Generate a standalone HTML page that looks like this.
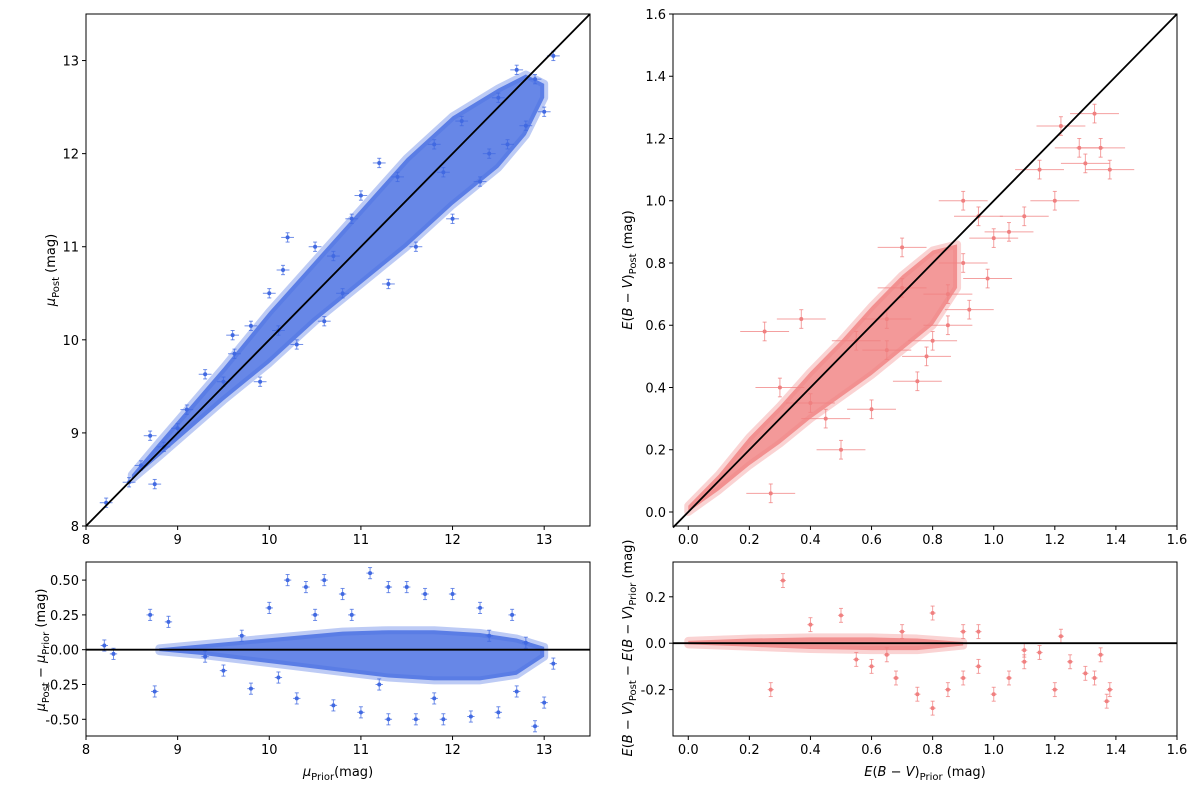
<!DOCTYPE html>
<html><head><meta charset="utf-8"><style>
body{margin:0;background:#fff;font-family:"Liberation Sans",sans-serif}
svg text{font-family:"DejaVu Sans","Liberation Sans",sans-serif;font-size:13px;fill:#000}
</style></head><body>
<svg id="fig" width="1200" height="789" xmlns="http://www.w3.org/2000/svg"></svg>
<script>
// ---- data ----
const bandLX=[8.5,8.8,9.5,10,10.5,11,11.5,12,12.5,12.8,13.0];
const bandLLo=[8.5,8.75,9.35,9.75,10.2,10.6,11.0,11.45,11.85,12.2,12.6];
const bandLHi=[8.55,8.9,9.7,10.3,10.85,11.4,11.95,12.4,12.7,12.85,12.75];
const ptsLX=[8.22,8.47,8.7,8.75,8.6,8.85,9.0,9.3,9.1,9.5,9.9,9.62,9.6,10.3,10.6,10.0,10.15,10.2,10.5,10.9,10.8,11.3,11.0,11.4,11.6,11.2,11.8,12.0,12.1,12.3,12.5,12.6,12.7,12.9,13.1,13.0,12.8,12.4,11.9,10.7,9.8,10.1];
const ptsLY=[8.25,8.47,8.97,8.45,8.65,8.85,9.05,9.63,9.25,9.55,9.55,9.85,10.05,9.95,10.2,10.5,10.75,11.1,11.0,11.3,10.5,10.6,11.55,11.75,11.0,11.9,12.1,11.3,12.35,11.7,12.6,12.1,12.9,12.8,13.05,12.45,12.3,12.0,11.8,10.9,10.15,10.1];
const rbandLX=[8.8,9.3,9.8,10.3,10.8,11.3,11.8,12.3,12.7,13.0];
const rbandLLo=[-0.01,-0.04,-0.08,-0.12,-0.16,-0.2,-0.22,-0.22,-0.18,-0.05];
const rbandLHi=[0.01,0.04,0.07,0.1,0.13,0.14,0.14,0.12,0.08,0.02];
const resLX=[8.2,8.3,8.7,8.75,8.9,9.3,9.5,9.8,10.0,10.2,10.4,10.6,10.8,11.1,11.3,11.5,11.7,12.0,12.3,10.3,10.7,11.0,11.3,11.6,11.9,12.2,12.5,12.9,13.0,13.1,12.7,12.8,12.65,9.7,10.1,10.9,11.8,12.4,11.2,10.5];
const resLY=[0.03,-0.03,0.25,-0.3,0.2,-0.05,-0.15,-0.28,0.3,0.5,0.45,0.5,0.4,0.55,0.45,0.45,0.4,0.4,0.3,-0.35,-0.4,-0.45,-0.5,-0.5,-0.5,-0.48,-0.45,-0.55,-0.38,-0.1,-0.3,0.05,0.25,0.1,-0.2,0.25,-0.35,0.1,-0.25,0.25];
const bandRX=[0,0.1,0.2,0.3,0.4,0.5,0.6,0.7,0.8,0.88];
const bandRLo=[0,0.07,0.15,0.22,0.3,0.37,0.44,0.52,0.6,0.72];
const bandRHi=[0.02,0.12,0.24,0.34,0.45,0.55,0.66,0.76,0.84,0.86];
const ptsRX=[0.27,0.25,0.37,0.5,0.6,0.55,0.65,0.7,0.75,0.8,0.85,0.9,0.92,0.95,1.0,1.05,1.1,0.98,0.9,0.85,0.7,0.65,1.2,1.22,1.33,1.35,1.38,1.28,1.3,1.15,0.4,0.3,0.45,0.78];
const ptsRY=[0.06,0.58,0.62,0.2,0.33,0.55,0.52,0.72,0.42,0.55,0.7,0.8,0.65,0.95,0.88,0.9,0.95,0.75,1.0,0.6,0.85,0.62,1.0,1.24,1.28,1.17,1.1,1.17,1.12,1.1,0.35,0.4,0.3,0.5];
const rbandRX=[0,0.2,0.4,0.6,0.75,0.9];
const rbandRLo=[-0.005,-0.015,-0.025,-0.03,-0.03,-0.01];
const rbandRHi=[0.01,0.02,0.025,0.025,0.02,0.005];
const resRX=[0.31,0.27,0.5,0.6,0.68,0.75,0.8,0.85,0.9,0.95,1.0,1.05,1.1,1.15,1.2,1.22,1.25,1.3,1.33,1.35,1.37,1.38,0.7,0.8,0.9,0.4,0.55,0.95,0.65,1.1];
const resRY=[0.27,-0.2,0.12,-0.1,-0.15,-0.22,-0.28,-0.2,-0.15,-0.1,-0.22,-0.15,-0.08,-0.04,-0.2,0.03,-0.08,-0.13,-0.15,-0.05,-0.25,-0.2,0.05,0.13,0.05,0.08,-0.07,0.05,-0.05,-0.03];
const ticksLX=[8,9,10,11,12,13];
const ticksLY=[8,9,10,11,12,13];
const ticksLR=[-0.5,-0.25,0,0.25,0.5];
const ticksRX=[0,0.2,0.4,0.6,0.8,1.0,1.2,1.4,1.6];
const ticksRR=[-0.2,0,0.2];

const NS="http://www.w3.org/2000/svg";
const svg=document.getElementById('fig');
function mk(t,a,p){const e=document.createElementNS(NS,t);for(const k in a)e.setAttribute(k,a[k]);(p||svg).appendChild(e);return e;}
function scale(d0,d1,r0,r1){return v=>r0+(v-d0)/(d1-d0)*(r1-r0);}
function panel(name,x0,x1,y0,y1,dx0,dx1,dy0,dy1,xt,yt,xfmt,yfmt){
  const g=mk('g',{});
  
  
  const sx=scale(dx0,dx1,x0,x1), sy=scale(dy0,dy1,y1,y0);
  const ax=mk('g',{},g);
  xt.forEach(v=>{const X=sx(v);mk('line',{x1:X,x2:X,y1:y1,y2:y1+4,stroke:'#000'},ax);const t=mk('text',{x:X,y:y1+18,'text-anchor':'middle'},ax);t.textContent=xfmt(v);});
  const ay=mk('g',{},g);
  yt.forEach(v=>{const Y=sy(v);mk('line',{x1:x0-4,x2:x0,y1:Y,y2:Y,stroke:'#000'},ay);const t=mk('text',{x:x0-7,y:Y+5,'text-anchor':'end'},ay);t.textContent=yfmt(v);});
  return {g,sx,sy,x0,x1,y0,y1};
}
function band(P,xs,lo,hi,col,name){
  let d='M'+xs.map((x,i)=>P.sx(x)+','+P.sy(hi[i])).join('L')+'L'+xs.slice().reverse().map((x,i)=>P.sx(x)+','+P.sy(lo[xs.length-1-i])).join('L')+'Z';
  const e=mk('path',{d:d,fill:col,'fill-opacity':0.8,stroke:col,'stroke-width':8,'stroke-opacity':0.35,'stroke-linejoin':'round'},P.g);
  
  
}
function pts(P,xs,ys,xe,ye,col,name){
  xs.forEach((x,i)=>{const X=P.sx(x),Y=P.sy(ys[i]);
    const gp=mk('g',{stroke:col,'stroke-opacity':0.75,fill:col},P.g);
    
    
    const hx=Math.abs(P.sx(x+xe)-X), hy=Math.abs(P.sy(ys[i]+ye)-Y);
    mk('line',{x1:X-hx,x2:X+hx,y1:Y,y2:Y},gp);mk('line',{x1:X,x2:X,y1:Y-hy,y2:Y+hy},gp);
    mk('line',{x1:X-2,x2:X+2,y1:Y-hy,y2:Y-hy},gp);mk('line',{x1:X-2,x2:X+2,y1:Y+hy,y2:Y+hy},gp);
    mk('circle',{cx:X,cy:Y,r:2,stroke:'none'},gp);});
}
function ref(P,xa,ya,xb,yb,name){const e=mk('line',{x1:P.sx(xa),y1:P.sy(ya),x2:P.sx(xb),y2:P.sy(yb),stroke:'#000','stroke-width':1.8},P.g);}
function frame(P){mk('rect',{x:P.x0,y:P.y0,width:P.x1-P.x0,height:P.y1-P.y0,fill:'none',stroke:'#000'},P.g);}
const BL='#4169e1', RD='#f08080';
const f0=v=>String(v), f1=v=>v.toFixed(1), f2=v=>v.toFixed(2);
let P=panel('mu-scatter-panel',86,590,14,526,8,13.5,8,13.5,ticksLX,ticksLY,f0,f0);
band(P,bandLX,bandLLo,bandLHi,BL,'mu-dense-cloud');pts(P,ptsLX,ptsLY,0.07,0.05,BL,'mu-point');ref(P,8,8,13.5,13.5,'one-to-one-line');frame(P);
P=panel('mu-residual-panel',86,590,562,736,8,13.5,-0.62,0.63,ticksLX,ticksLR,f0,f2);
band(P,rbandLX,rbandLLo,rbandLHi,BL,'mu-residual-cloud');pts(P,resLX,resLY,0.04,0.04,BL,'mu-residual-point');ref(P,8,0,13.5,0,'zero-line');frame(P);
P=panel('ebv-scatter-panel',673,1177,14,526,-0.05,1.6,-0.045,1.6,ticksRX,ticksRX,f1,f1);
band(P,bandRX,bandRLo,bandRHi,RD,'ebv-dense-cloud');pts(P,ptsRX,ptsRY,0.08,0.03,RD,'ebv-point');ref(P,-0.05,-0.05,1.6,1.6,'one-to-one-line');frame(P);
P=panel('ebv-residual-panel',673,1177,562,736,-0.05,1.6,-0.4,0.35,ticksRX,ticksRR,f1,f1);
band(P,rbandRX,rbandRLo,rbandRHi,RD,'ebv-residual-cloud');pts(P,resRX,resRY,0.01,0.03,RD,'ebv-residual-point');ref(P,-0.05,0,1.6,0,'zero-line');frame(P);
</script>
<svg style="position:absolute;left:0;top:0" width="1200" height="789" xmlns="http://www.w3.org/2000/svg">
<g font-family="DejaVu Sans, Liberation Sans, sans-serif" font-size="15">
<text transform="translate(55,270) rotate(-90)" text-anchor="middle"><tspan font-style="italic">μ</tspan><tspan font-size="10" dy="4">Post</tspan><tspan dy="-4"> (mag)</tspan></text>
<text transform="translate(45,650) rotate(-90)" text-anchor="middle"><tspan font-style="italic">μ</tspan><tspan font-size="10" dy="4">Post</tspan><tspan dy="-4"> − </tspan><tspan font-style="italic">μ</tspan><tspan font-size="10" dy="4">Prior</tspan><tspan dy="-4"> (mag)</tspan></text>
<text x="338" y="776" text-anchor="middle"><tspan font-style="italic">μ</tspan><tspan font-size="10" dy="4">Prior</tspan><tspan dy="-4">(mag)</tspan></text>
<text transform="translate(632,270) rotate(-90)" text-anchor="middle"><tspan font-style="italic">E</tspan>(<tspan font-style="italic">B</tspan> − <tspan font-style="italic">V</tspan>)<tspan font-size="10" dy="4">Post</tspan><tspan dy="-4"> (mag)</tspan></text>
<text transform="translate(632,648) rotate(-90)" text-anchor="middle"><tspan font-style="italic">E</tspan>(<tspan font-style="italic">B</tspan> − <tspan font-style="italic">V</tspan>)<tspan font-size="10" dy="4">Post</tspan><tspan dy="-4"> − </tspan><tspan font-style="italic">E</tspan>(<tspan font-style="italic">B</tspan> − <tspan font-style="italic">V</tspan>)<tspan font-size="10" dy="4">Prior</tspan><tspan dy="-4"> (mag)</tspan></text>
<text x="925" y="776" text-anchor="middle"><tspan font-style="italic">E</tspan>(<tspan font-style="italic">B</tspan> − <tspan font-style="italic">V</tspan>)<tspan font-size="10" dy="4">Prior</tspan><tspan dy="-4"> (mag)</tspan></text>
</g></svg>
</body></html>
